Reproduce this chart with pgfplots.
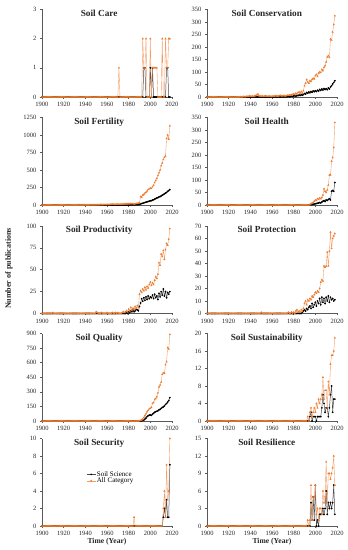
\documentclass[border=0pt]{standalone}
\usepackage{fontspec}
\setmainfont{Liberation Serif}
\usepackage{pgfplots}
\usepackage{pgfplotstable}
\pgfplotsset{compat=1.18}
\definecolor{ora}{HTML}{ED7D31}
\definecolor{axgray}{HTML}{595959}
\pgfplotstableread{
yr caS caA coS coA feS feA heS heA prS prA ptS ptA quS quA suS suA seS seA reS reA
1900 0 0 0 0 0 0 0 0 0 0 0 0 0 0 0 0 0 0 0 0
1901 0 0 0 0 0 0 0 0 0 0 0 0 0 0 0 0 0 0 0 0
1902 0 0 0 0 0 0 0 0 0 0 0 0 0 0 0 0 0 0 0 0
1903 0 0 0 0 0 0 0 0 0 0 0 0 0 0 0 0 0 0 0 0
1904 0 0 0 0 0 0 0 0 0 0 0 0 0 0 0 0 0 0 0 0
1905 0 0 0 0 0 0 0 0 0 0 0 0 0 0 0 0 0 0 0 0
1906 0 0 0 0 0 0 0 0 0 0 0 0 0 0 0 0 0 0 0 0
1907 0 0 0 0 0 0 0 0 0 0 0 0 0 0 0 0 0 0 0 0
1908 0 0 0 0 0 0 0 0 0 0 0 0 0 0 0 0 0 0 0 0
1909 0 0 0 0 0 0 0 0 0 0 0 0 0 0 0 0 0 0 0 0
1910 0 0 0 0 0 0 0 0 0 1 0 0 0 0 0 0 0 0 0 0
1911 0 0 0 0 0 0 0 0 0 0 0 0 0 0 0 0 0 0 0 0
1912 0 0 0 0 0 0 0 0 0 0 0 0 0 0 0 0 0 0 0 0
1913 0 0 0 0 0 0 0 0 0 0 0 0 0 0 0 0 0 0 0 0
1914 0 0 0 0 0 0 0 0 0 0 0 0 0 0 0 0 0 0 0 0
1915 0 0 0 0 0 0 0 0 0 0 0 0 0 0 0 0 0 0 0 0
1916 0 0 0 0 0 0 0 0 0 0 0 0 0 0 0 0 0 0 0 0
1917 0 0 0 0 0 0 0 0 0 0 0 0 0 0 0 0 0 0 0 0
1918 0 0 0 0 0 0 0 0 0 0 0 0 0 0 0 0 0 0 0 0
1919 0 0 0 0 0 0 0 0 0 0 0 0 0 0 0 0 0 0 0 0
1920 0 0 0 0 0 0 0 0 0 0 0 0 0 0 0 0 0 0 0 0
1921 0 0 0 0 0 0 0 0 0 0 0 0 0 0 0 0 0 0 0 0
1922 0 0 0 0 0 0 0 0 0 0 0 0 0 0 0 0 0 0 0 0
1923 0 0 0 0 0 0 0 0 0 0 0 0 0 0 0 0 0 0 0 0
1924 0 0 0 0 0 0 0 0 0 0 0 0 0 0 0 0 0 0 0 0
1925 0 0 0 0 0 0 0 0 0 0 0 0 0 0 0 0 0 0 0 0
1926 0 0 0 0 0 0 0 0 0 0 0 0 0 0 0 0 0 0 0 0
1927 0 0 0 0 0 0 0 0 0 0 0 0 0 0 0 0 0 0 0 0
1928 0 0 0 0 0 0 0 0 0 0 0 0 0 0 0 0 0 0 0 0
1929 0 0 0 0 0 0 0 0 0 0 0 0 0 0 0 0 0 0 0 0
1930 0 0 0 0 0 1 0 0 0 0 0 0 0 0 0 0 0 0 0 0
1931 0 0 0 1 0 0 0 0 0 0 0 0 0 0 0 0 0 0 0 0
1932 0 0 0 0 0 1 0 0 0 0 0 0 0 0 0 0 0 0 0 0
1933 0 0 0 1 0 1 0 0 0 0 0 0 0 0 0 0 0 0 0 0
1934 0 0 0 2 0 0 0 0 0 0 0 0 0 0 0 0 0 0 0 0
1935 0 0 0 1 0 2 0 0 0 0 0 0 0 0 0 0 0 0 0 0
1936 0 0 0 2 0 1 0 0 0 0 0 0 0 0 0 0 0 0 0 0
1937 0 0 0 3 0 2 0 0 0 0 0 0 0 0 0 0 0 0 0 0
1938 0 0 0 2 0 1 0 0 0 0 0 0 0 0 0 0 0 0 0 0
1939 0 0 0 4 0 2 0 0 0 0 0 0 0 0 0 0 0 0 0 0
1940 0 0 0 3 0 2 0 0 0 0 0 0 0 0 0 0 0 0 0 0
1941 0 0 0 2 0 1 0 0 0 0 0 0 0 0 0 0 0 0 0 0
1942 0 0 0 3 0 2 0 0 0 0 0 0 0 0 0 0 0 0 0 0
1943 0 0 0 2 0 1 0 0 0 0 0 0 0 0 0 0 0 0 0 0
1944 0 0 0 4 0 2 0 0 0 0 0 0 0 0 0 0 0 0 0 0
1945 0 0 0 6 0 3 0 0 0 0 0 0 0 0 0 0 0 0 0 0
1946 0 0 0 8 0 2 0 0 0 0 0 0 0 0 0 0 0 0 0 0
1947 0 0 0 12 0 3 0 0 0 0 0 0 0 0 0 0 0 0 0 0
1948 0 0 0 5 0 2 0 0 0 0 0 0 0 0 0 0 0 0 0 0
1949 0 0 0 4 0 3 0 0 0 0 0 0 0 0 0 0 0 0 0 0
1950 0 0 0 3 0 4 0 0 0 2 0 1 0 0 0 0 0 0 0 0
1951 0 0 0 4 0 3 0 0 0 1 0 0 0 0 0 0 0 0 0 0
1952 0 0 0 2 0 3 0 0 0 0 0 0 0 0 0 0 0 0 0 0
1953 0 0 0 3 0 4 0 0 0 0 0 0 0 0 0 0 0 0 0 0
1954 0 0 0 4 0 5 0 0 0 0 0 0 0 0 0 0 0 0 0 0
1955 0 0 0 3 0 5 0 0 0 1 0 0 0 0 0 0 0 0 0 0
1956 0 0 0 2 0 4 0 0 0 0 0 0 0 0 0 0 0 0 0 0
1957 0 0 0 3 0 6 0 0 0 0 0 0 0 0 0 0 0 0 0 0
1958 0 0 0 4 0 6 0 0 0 0 0 0 0 0 0 0 0 0 0 0
1959 0 0 0 2 0 5 0 0 0 0 0 0 0 0 0 0 0 0 0 0
1960 0 0 1 3 0 8 0 0 0 1 0 0 0 0 0 0 0 0 0 0
1961 0 0 0 4 0 6 0 0 0 0 0 0 0 0 0 0 0 0 0 0
1962 0 0 0 3 0 7 0 0 0 0 0 0 0 0 0 0 0 0 0 0
1963 0 0 1 5 0 8 0 0 0 0 0 0 0 0 0 0 0 0 0 0
1964 0 0 0 4 0 9 0 0 0 0 0 0 0 0 0 0 0 0 0 0
1965 0 0 0 3 0 10 0 0 0 1 0 0 0 0 0 0 0 0 0 0
1966 0 0 1 4 0 9 0 0 0 0 0 0 0 0 0 0 0 0 0 0
1967 0 0 0 5 0 8 0 0 0 0 0 0 0 0 0 0 0 0 0 0
1968 0 0 0 6 0 8 0 0 0 1 0 0 0 0 0 0 0 0 0 0
1969 0 0 1 4 0 10 0 0 0 0 0 0 0 0 0 0 0 0 0 0
1970 0 0 0 5 0 12 0 0 0 1 0 0 0 0 0 0 0 0 0 0
1971 0 1 1 6 0 10 0 0 0 0 0 0 0 0 0 0 0 0 0 0
1972 0 0 0 4 1 11 0 0 0 0 0 0 0 0 0 0 0 0 0 0
1973 0 0 1 5 0 12 0 0 0 0 0 0 0 0 0 0 0 0 0 0
1974 0 0 1 7 1 14 0 0 0 1 0 0 0 0 0 0 0 0 0 0
1975 0 0 2 6 0 12 0 0 0 2 0 1 0 0 0 0 0 0 0 0
1976 0 0 1 8 1 13 0 0 0 1 0 0 0 0 0 0 0 0 0 0
1977 0 0 2 7 0 15 0 0 0 2 0 0 0 0 0 0 0 0 0 0
1978 0 0 3 9 1 15 0 0 1 3 0 1 0 0 0 0 0 0 0 0
1979 0 0 2 10 0 16 0 0 0 2 0 0 0 0 0 0 0 0 0 0
1980 0 0 4 12 1 18 0 0 2 5 0 1 0 0 0 0 0 0 0 0
1981 0 0 5 10 1 16 0 0 1 3 0 0 0 0 0 0 0 0 0 0
1982 0 0 3 15 2 20 0 0 3 7 0 2 0 0 0 0 0 0 0 0
1983 0 0 6 12 1 17 0 0 2 4 0 3 0 0 0 0 0 0 0 0
1984 0 0 5 18 2 20 0 0 4 6 0 1 0 0 0 0 0 0 0 0
1985 0 0 8 20 2 15 0 0 2 5 0 2 0 0 0 0 0 1 0 0
1986 0 0 6 16 3 18 0 0 3 8 0 1 0 0 0 0 0 0 0 0
1987 0 0 9 22 4 20 0 0 5 6 0 3 0 0 0 0 0 0 0 0
1988 0 0 7 15 5 22 0 0 4 9 1 2 0 0 0 0 0 0 0 0
1989 0 0 10 25 6 25 0 0 3 7 2 4 0 0 0 0 0 0 0 0
1990 0 0 14 45 10 30 0 0 8 22 3 8 0 2 0 0 0 0 0 0
1991 0 0 12 55 15 120 0 0 12 26 2 10 0 5 0 0 0 0 0 0
1992 0 0 18 70 20 110 0 0 17 24 4 7 2 10 0 0 0 0 0 0
1993 0 2 15 60 25 140 0 0 14 28 3 11 5 20 0 1 0 0 0 1
1994 1 1 20 55 30 150 0 0 18 26 5 10 10 35 0 0 0 0 0 0
1995 1 1 17 65 35 170 1 2 15 30 6 12 20 55 1 2 0 0 0 1
1996 0 2 22 62 40 180 1 5 19 27 4 11 30 75 2 3 0 0 4 7
1997 0 0 19 70 45 200 2 8 16 31 8 14 45 95 0 1 0 0 1 1
1998 0 0 24 75 50 220 3 10 20 29 5 13 55 110 1 2 0 0 5 5
1999 0 0 21 72 55 230 4 15 17 33 7 15 60 125 1 3 0 0 1 5
2000 1 2 25 85 60 240 5 20 19 36 9 17 62 130 1 2 0 0 7 7
2001 0 0 22 90 62 235 6 18 18 32 6 16 58 140 0 4 0 0 0 2
2002 1 1 27 82 70 260 7 25 21 35 10 18 70 180 1 3 0 0 1 3
2003 0 1 24 95 75 280 8 22 17 33 8 17 80 190 1 5 0 0 0 1
2004 0 1 30 100 85 320 10 28 22 38 12 20 90 220 1 4 0 0 2 3
2005 0 1 26 98 90 350 8 25 18 42 7 25 95 230 1 5 0 0 2 3
2006 0 1 32 110 100 380 12 30 20 40 13 27 100 250 3 6 0 0 2 2
2007 0 0 28 105 105 420 15 40 16 45 9 26 105 290 6 10 0 0 3 6
2008 0 0 34 118 115 460 18 65 23 58 12 38 115 350 4 5 0 0 2 4
2009 0 0 30 125 120 500 14 55 19 55 8 37 120 370 2 7 0 0 3 5
2010 0 0 33 140 130 560 20 50 25 68 13 38 130 400 3 7 0 0 6 11
2011 0 2 29 160 140 600 18 60 21 65 10 49 140 480 3 3 0 0 2 4
2012 0 0 36 165 150 650 22 80 28 72 14 38 145 495 1 9 1 2 4 9
2013 0 0 32 158 160 680 25 120 20 62 9 50 155 490 3 6 2 4 3 9
2014 0 2 40 232 170 700 20 120 25 73 13 65 170 580 6 13 1 1 4 8
2015 1 1 45 228 180 950 55 175 18 80 11 52 180 610 8 15 3 7 3 9
2016 1 1 52 260 195 1000 58 190 24 78 12 60 195 755 2 15 1 3 4 10
2017 0 2 58 290 205 940 55 230 22 85 10 62 210 740 5 16 1 4 7 12
2018 0 2 65 325 220 1130 90 330 25 97 11 64 240 890 5 19 7 10 2 7
}\data
\pgfplotsset{
  panel/.style={
    scale only axis, width=130pt, height=87.5pt,
    xmin=1900, xmax=2020, xtick={1900,1920,...,2020}, ymin=0,
    axis x line*=bottom, axis y line*=left,
    axis line style={-, draw=axgray, line width=0.6pt},
    tick style={draw=axgray, line width=0.5pt},
    major tick length=2pt, tick align=outside,
    ticklabel style={font=\fontsize{6.5}{7}\selectfont, text=black!85},
    /pgf/number format/1000 sep={},
    /pgf/number format/assume math mode=true,
    clip=false,
  },
  ss/.style={draw=black!70, line width=0.5pt, mark=*, mark size=0.6pt,
    mark options={fill=black, draw=black, solid}},
  aa/.style={draw=ora!75, line width=0.4pt, mark=triangle*, mark size=0.8pt,
    mark options={fill=ora, draw=ora, solid}},
}
\newcommand{\ptitle}[2]{\node[anchor=north, inner sep=0pt, text=black!85,
  font=\bfseries\fontsize{9.3}{10}\selectfont] at (rel axis cs:#1,1) {#2};}
\begin{document}
\begin{tikzpicture}[x=1pt,y=1pt]
\path[use as bounding box] (0,0) rectangle (348,550);
% row 1
\begin{axis}[panel, at={(42pt,453pt)}, ymax=3, ytick={0,1,2,3}]
\addplot[ss] table[x=yr,y=caS]{\data};
\addplot[aa] table[x=yr,y=caA]{\data};
\ptitle{0.44}{Soil Care}
\end{axis}
\begin{axis}[panel, at={(207pt,453pt)}, ymax=350, ytick={0,50,...,350}]
\addplot[ss] table[x=yr,y=coS]{\data};
\addplot[aa] table[x=yr,y=coA]{\data};
\ptitle{0.46}{Soil Conservation}
\end{axis}
% row 2
\begin{axis}[panel, at={(42pt,345pt)}, ymax=1250, ytick={0,250,...,1250}]
\addplot[ss] table[x=yr,y=feS]{\data};
\addplot[aa] table[x=yr,y=feA]{\data};
\ptitle{0.44}{Soil Fertility}
\end{axis}
\begin{axis}[panel, at={(207pt,345pt)}, ymax=350, ytick={0,50,...,350}]
\addplot[ss] table[x=yr,y=heS]{\data};
\addplot[aa] table[x=yr,y=heA]{\data};
\ptitle{0.46}{Soil Health}
\end{axis}
% row 3
\begin{axis}[panel, at={(42pt,236.5pt)}, ymax=100, ytick={0,25,...,100}]
\addplot[ss] table[x=yr,y=prS]{\data};
\addplot[aa] table[x=yr,y=prA]{\data};
\ptitle{0.44}{Soil Productivity}
\end{axis}
\begin{axis}[panel, at={(207pt,236.5pt)}, ymax=70, ytick={0,10,...,70}]
\addplot[ss] table[x=yr,y=ptS]{\data};
\addplot[aa] table[x=yr,y=ptA]{\data};
\ptitle{0.46}{Soil Protection}
\end{axis}
% row 4
\begin{axis}[panel, at={(42pt,129pt)}, ymax=900, ytick={0,150,...,900}]
\addplot[ss] table[x=yr,y=quS]{\data};
\addplot[aa] table[x=yr,y=quA]{\data};
\ptitle{0.44}{Soil Quality}
\end{axis}
\begin{axis}[panel, at={(207pt,129pt)}, ymax=20, ytick={0,4,...,20}]
\addplot[ss] table[x=yr,y=suS]{\data};
\addplot[aa] table[x=yr,y=suA]{\data};
\ptitle{0.46}{Soil Sustainability}
\end{axis}
% row 5
\begin{axis}[panel, at={(42pt,24pt)}, ymax=10, ytick={0,2,...,10},
  legend style={at={(0.34,0.64)}, anchor=north west, draw=none, fill=none,
    font=\fontsize{7}{8}\selectfont, inner sep=0pt, row sep=-2pt,
    nodes={inner sep=1pt}},
  legend cell align=left,
  legend image code/.code={\draw[mark repeat=2,mark phase=2]
    plot coordinates {(0pt,0pt)(4.5pt,0pt)(9pt,0pt)};}]
\addplot[ss] table[x=yr,y=seS]{\data};
\addlegendentry{Soil Science}
\addplot[aa] table[x=yr,y=seA]{\data};
\addlegendentry{All Category}
\ptitle{0.44}{Soil Security}
\end{axis}
\begin{axis}[panel, at={(207pt,24pt)}, ymax=15, ytick={0,3,...,15}]
\addplot[ss] table[x=yr,y=reS]{\data};
\addplot[aa] table[x=yr,y=reA]{\data};
\ptitle{0.46}{Soil Resilience}
\end{axis}
% shared labels
\node[rotate=90, text=black!85, font=\bfseries\fontsize{8}{9}\selectfont] at (9,281.5) {Number of publications};
\node[text=black!85, font=\bfseries\fontsize{7.6}{8}\selectfont] at (107,8) {Time (Year)};
\node[text=black!85, font=\bfseries\fontsize{7.6}{8}\selectfont] at (272,8) {Time (Year)};
\end{tikzpicture}
\end{document}
